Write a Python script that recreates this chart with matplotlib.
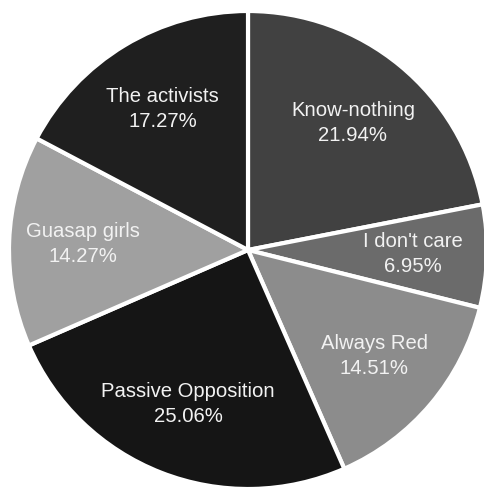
import matplotlib
matplotlib.use("Agg")
import matplotlib.pyplot as plt

# ── Data ──────────────────────────────────────────────────────────────────────
LABELS = ["Know-nothing", "I don't care", "Always Red",
          "Passive Opposition", "Guasap girls", "The activists"]
SHARES = [21.94, 6.95, 14.51, 25.06, 14.27, 17.27]
COLORS = ["#414141", "#6b6b6b", "#8c8c8c", "#151515", "#a0a0a0", "#1f1f1f"]
# ─────────────────────────────────────────────────────────────────────────────

W, H = 484, 487
CX, CY, R = 248, 250, 239      # pie centre / radius in pixels

fig = plt.figure(figsize=(W / 100, H / 100), dpi=100)
ax = fig.add_axes([0, 0, 1, 1])

texts = [f"{lab}\n{val:.2f}%" for lab, val in zip(LABELS, SHARES)]
wedges, labs = ax.pie(
    SHARES,
    labels=texts,
    colors=COLORS,
    startangle=90,
    counterclock=False,
    labeldistance=0.69,
    wedgeprops={"edgecolor": "white", "linewidth": 3},
    textprops={"color": "#f2f2f2", "fontsize": 14.6,
               "family": ["Liberation Sans", "DejaVu Sans"],
               "ha": "center", "va": "center", "linespacing": 1.4},
)
for t in labs:
    t.set_horizontalalignment("center")
    t.set_multialignment("center")

ax.set_xlim(-CX / R, (W - CX) / R)
ax.set_ylim(-(H - CY) / R, CY / R)
ax.set_aspect("auto")
ax.axis("off")

fig.savefig("out.png", dpi=100, facecolor="white")
